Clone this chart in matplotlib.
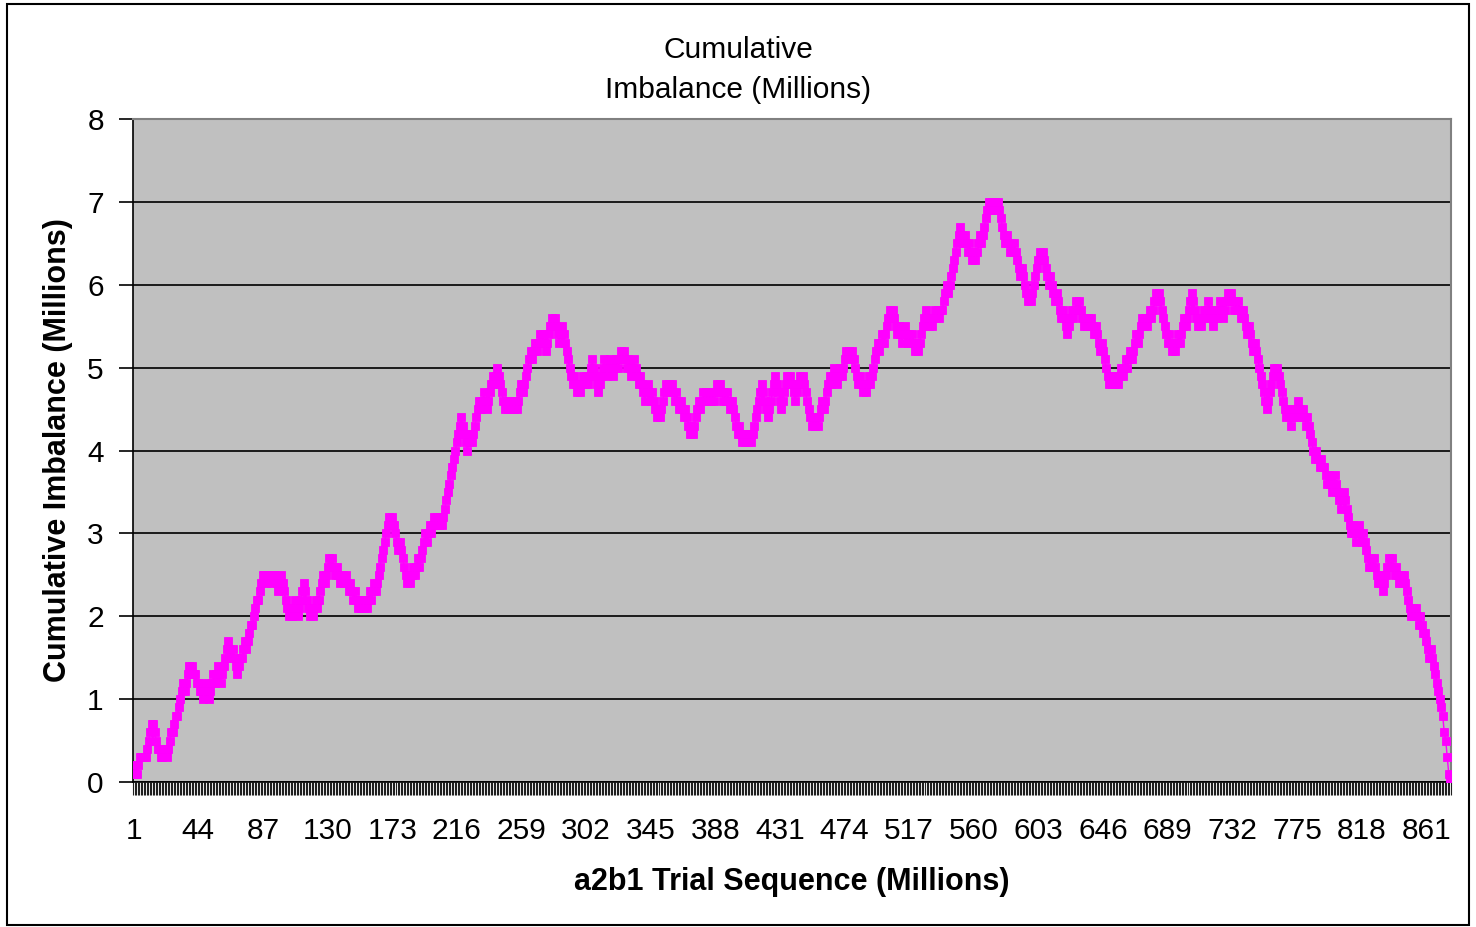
import matplotlib
matplotlib.use('Agg')
import matplotlib.pyplot as plt
from matplotlib.patches import Rectangle
import numpy as np

# cumulative imbalance per trial in tenths of a million
imbalance_tenths = [
    2, 1, 1, 2, 3, 3, 3, 3, 3, 4, 5, 6, 7, 7, 6, 5, 4, 4, 3,
    3, 4, 4, 3, 4, 5, 6, 6, 7, 8, 8, 9, 10,
    11, 12, 11, 12, 13, 14, 13, 14, 13, 13, 12, 12, 11,
    11, 10, 11, 12, 11, 10, 11, 12, 13, 12, 13, 14, 13, 12,
    13, 14, 15, 16, 17, 16, 15, 16, 15, 14, 13, 14, 15,
    15, 16, 17, 16, 17, 18, 19, 19, 20, 21, 22, 22, 23, 24,
    25, 25, 24, 25, 25, 24, 25, 25, 25, 24, 23, 24, 25,
    24, 23, 22, 21, 20, 21, 20, 21, 22, 21, 20, 21, 22,
    23, 24, 23, 22, 21, 20, 21, 20, 21, 22, 21, 22, 23,
    24, 25, 24, 25, 26, 27, 26, 27, 26, 25, 26, 25, 24, 25,
    25, 24, 25, 24, 23, 24, 23, 22, 23, 22, 21, 22, 21,
    22, 21, 22, 21, 22, 23, 22, 23, 24, 23, 24, 25, 26, 27,
    28, 29, 30, 31, 32, 31, 32, 31, 30, 29, 28, 29, 28,
    27, 26, 25, 24, 25, 24, 25, 26, 25, 26, 27, 26, 27,
    28, 29, 30, 29, 30, 31, 30, 31, 32, 31, 32, 31, 32, 31,
    32, 33, 34, 35, 36, 37, 38, 39, 40, 41, 42, 43, 44,
    43, 42, 41, 40, 41, 42, 41, 42, 43, 44, 45, 46, 45,
    46, 47, 46, 45, 46, 47, 48, 49, 48, 49, 50, 49, 48, 47,
    46, 45, 46, 45, 46, 45, 46, 45, 46, 45, 46, 47, 48,
    47, 48, 49, 50, 51, 52, 51, 52, 53, 52, 53, 54, 53,
    54, 53, 52, 53, 54, 55, 56, 55, 56, 55, 54, 53, 54, 55,
    54, 53, 52, 51, 50, 49, 48, 49, 48, 47, 48, 47, 48,
    49, 48, 49, 48, 49, 50, 51, 50, 49, 48, 47, 48, 49,
    50, 51, 50, 49, 50, 51, 50, 49, 50, 51, 50, 51, 52, 51,
    52, 51, 50, 51, 50, 49, 50, 51, 50, 49, 48, 49, 48,
    47, 46, 47, 48, 47, 46, 47, 46, 45, 44, 45, 44, 45,
    46, 47, 48, 47, 48, 47, 48, 47, 46, 47, 46, 45, 46, 45,
    44, 45, 44, 43, 42, 43, 42, 43, 44, 45, 46, 45, 46,
    47, 46, 47, 46, 47, 46, 47, 46, 47, 48, 47, 48, 47,
    46, 47, 46, 47, 46, 45, 46, 45, 44, 43, 42, 43, 42, 41,
    42, 41, 42, 41, 42, 41, 42, 43, 44, 45, 46, 47, 48,
    47, 46, 45, 44, 45, 46, 47, 48, 49, 48, 47, 46, 45,
    46, 47, 48, 49, 48, 49, 48, 47, 46, 47, 48, 49, 48, 49,
    48, 47, 46, 45, 44, 43, 44, 43, 44, 43, 44, 45, 46,
    45, 46, 47, 48, 49, 48, 49, 50, 49, 48, 49, 50, 49,
    50, 51, 52, 51, 52, 51, 52, 51, 50, 49, 48, 49, 48, 47,
    48, 47, 48, 49, 48, 49, 50, 51, 52, 53, 52, 53, 54,
    53, 54, 55, 56, 57, 56, 57, 56, 55, 54, 55, 54, 53,
    54, 55, 54, 53, 54, 53, 54, 53, 52, 53, 52, 53, 54, 55,
    56, 57, 56, 55, 56, 55, 56, 57, 56, 57, 56, 57, 57,
    58, 59, 60, 59, 60, 61, 62, 63, 64, 65, 66, 67, 66,
    65, 66, 65, 64, 65, 64, 63, 64, 63, 64, 65, 66, 65, 66,
    67, 68, 69, 70, 69, 70, 69, 70, 69, 70, 69, 68, 67,
    66, 65, 66, 65, 64, 65, 64, 65, 64, 63, 62, 61, 62,
    61, 60, 59, 58, 59, 58, 59, 60, 61, 62, 63, 64, 63, 64,
    63, 62, 61, 60, 61, 60, 59, 58, 59, 58, 57, 56, 57,
    56, 55, 54, 55, 56, 57, 56, 57, 58, 57, 58, 57, 56,
    55, 56, 55, 56, 55, 56, 55, 54, 55, 54, 53, 52, 53, 52,
    51, 50, 49, 48, 49, 48, 49, 48, 49, 48, 49, 50, 49,
    50, 51, 50, 51, 52, 51, 52, 53, 54, 53, 54, 55, 56,
    55, 56, 55, 56, 57, 56, 57, 58, 59, 58, 59, 58, 57, 56,
    55, 54, 53, 54, 53, 52, 53, 52, 53, 54, 53, 54, 55,
    56, 55, 56, 57, 58, 59, 58, 57, 56, 55, 56, 55, 56,
    57, 56, 57, 58, 57, 56, 55, 56, 57, 56, 57, 58, 57, 56,
    57, 58, 59, 58, 59, 58, 57, 58, 57, 58, 57, 56, 57,
    56, 55, 54, 55, 54, 53, 52, 53, 52, 51, 50, 49, 48,
    47, 46, 45, 46, 47, 48, 49, 50, 49, 50, 49, 48, 47, 46,
    45, 44, 45, 44, 43, 44, 45, 44, 45, 46, 45, 44, 45,
    44, 43, 44, 43, 42, 41, 40, 39, 40, 39, 38, 39, 38,
    38, 37, 36, 37, 36, 35, 36, 37, 36, 35, 34, 33, 34, 35,
    34, 33, 32, 31, 30, 31, 30, 29, 30, 31, 30, 29, 30,
    29, 28, 27, 26, 27, 26, 27, 26, 25, 24, 25, 24, 23,
    24, 25, 26, 27, 26, 27, 26, 25, 26, 25, 24, 25, 24, 25,
    24, 23, 22, 21, 20, 21, 20, 21, 20, 19, 20, 19, 18,
    18, 17, 16, 15, 16, 15, 14, 13, 12, 11, 10, 9, 8, 6, 5, 3, 1, 0,
]
x_tick_labels = ['1', '44', '87', '130', '173', '216', '259', '302', '345',
                 '388', '431', '474', '517', '560', '603', '646', '689',
                 '732', '775', '818', '861']

imbalance = np.array(imbalance_tenths) / 10.0
n = len(imbalance)
trial = np.arange(1, n + 1)

plt.rcParams['font.family'] = ['Liberation Sans', 'DejaVu Sans']

fig = plt.figure(figsize=(14.76, 9.27), dpi=100)
W, H = 1476, 927
ax = fig.add_axes([133 / W, 1 - 782 / H, (1451 - 133) / W, (782 - 119) / H])
ax.set_facecolor('#C0C0C0')

# outer chart frame
fig.patches.append(Rectangle((7 / W, 1 - 925 / H), (1469 - 7) / W, (925 - 4) / H,
                             transform=fig.transFigure, fill=False,
                             edgecolor='black', linewidth=1.5))

ax.plot(trial, imbalance, color='#FF00FF', linewidth=1.0, marker='s',
        markersize=6.3, markeredgewidth=0.6, markeredgecolor='#FF00FF',
        markerfacecolor='#FF00FF', zorder=3)

# y-axis
ax.set_ylim(0, 8)
ax.set_yticks(np.arange(0, 9, 1))
ax.yaxis.grid(True, color='#1a1a1a', linewidth=1.4)
ax.set_axisbelow(True)
ax.tick_params(axis='y', which='major', direction='out', length=10, width=1.2,
               labelsize=21.5, pad=11)
ax.set_ylabel('Cumulative Imbalance (Millions)', fontsize=22, fontweight='bold',
              labelpad=10)

# x-axis: a tick at every category boundary, labels every 43 categories
ax.set_xlim(0.5, n + 0.5)
ax.set_xticks(np.arange(0.5, n + 1, 1.0))
ax.set_xticklabels([])
ax.tick_params(axis='x', which='major', direction='out', length=9, width=0.8,
               color='#202020')
ax.set_xticks([int(s) for s in x_tick_labels], minor=True)
ax.set_xticklabels(x_tick_labels, minor=True)
ax.tick_params(axis='x', which='minor', length=0, labelsize=21.5, pad=25)
ax.set_xlabel('a2b1 Trial Sequence (Millions)', fontsize=22, fontweight='bold',
              labelpad=16)

for side in ['top', 'right']:
    ax.spines[side].set_color('#808080')
    ax.spines[side].set_linewidth(1.5)
for side in ['left', 'bottom']:
    ax.spines[side].set_color('black')
    ax.spines[side].set_linewidth(1.2)

fig.text(0.5, 1 - 70 / H, 'Cumulative\nImbalance (Millions)', ha='center',
         va='center', fontsize=21.5, linespacing=1.5)

fig.savefig('out.png', dpi=100)
